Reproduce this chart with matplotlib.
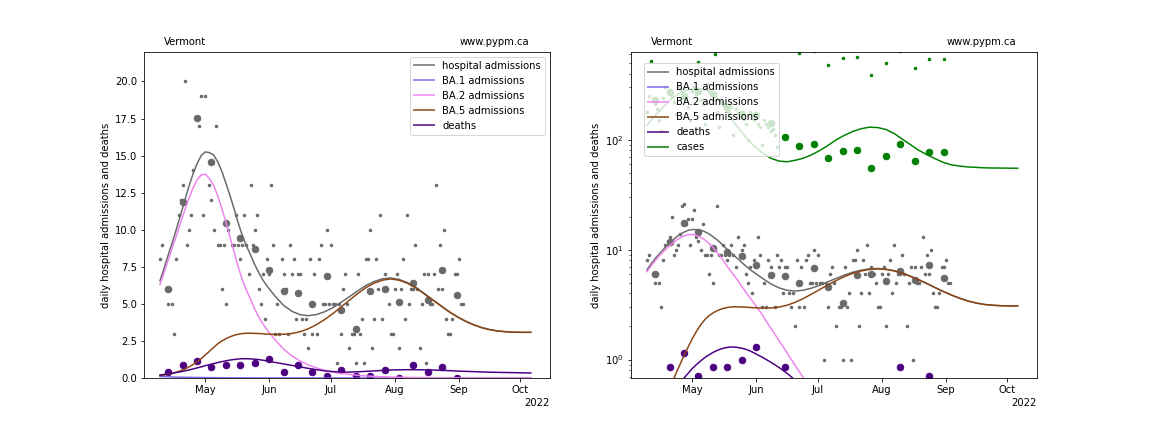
import datetime as dt

import matplotlib
matplotlib.use('Agg')
import matplotlib.pyplot as plt
import matplotlib.dates as mdates
from matplotlib.lines import Line2D

base = dt.datetime(2022, 5, 1)

# daily hospital admissions (day offset from May 1, value)
hosp_days = [-22, -21, -19, -18, -17, -16, -15, -14, -13, -12, -11, -10, -9, -8, -7, -6, -5, -4, -3, -2, -1,
             0, 1, 2, 3, 4, 5, 6, 7, 8, 9, 10, 11, 12, 13,
             14, 15, 16, 17, 18, 19, 20, 21, 22, 23, 24, 25, 26, 27,
             28, 29, 30, 31, 32, 33, 34, 35, 36, 37, 38, 39, 40, 41,
             42, 43, 44, 45, 46, 47, 48, 49, 50, 51, 52, 53, 54, 55,
             56, 57, 58, 59, 60, 61, 62, 63, 64, 65, 66, 67, 68, 69,
             70, 71, 72, 73, 74, 75, 76, 77, 78, 79, 80, 81, 82, 83,
             84, 85, 86, 87, 88, 89, 90, 91, 92, 93, 94, 95, 96, 97,
             98, 99, 100, 101, 102, 103, 104, 105, 106, 107, 108, 109, 110, 111,
             112, 113, 114, 115, 116, 117, 118, 119, 120, 121, 122, 123, 124, 125]
hosp_daily = [8, 9, 6, 5, 6, 5, 3, 8, 11, 12, 13, 20, 9, 10, 11, 14, 25, 26, 17, 19, 11,
              19, 23, 13, 12, 10, 17, 9, 9, 6, 9, 5, 10, 25, 9,
              9, 11, 9, 8, 9, 11, 9, 7, 13, 9, 10, 11, 6, 5,
              7, 4, 8, 7, 13, 9, 3, 5, 3, 8, 7, 6, 3, 9,
              7, 8, 4, 7, 7, 4, 3, 4, 2, 8, 3, 7, 3, 8,
              9, 5, 5, 10, 5, 9, 5, 5, 1, 5, 3, 6, 7, 5,
              2, 3, 3, 1, 7, 3, 4, 1, 8, 8, 10, 2, 4, 8,
              6, 11, 4, 7, 6, 5, 3, 3, 6, 7, 2, 6, 8, 4,
              11, 5, 6, 6, 9, 6, 2, 5, 7, 1, 7, 5, 5, 7,
              13, 6, 9, 6, 10, 4, 3, 3, 4, 7, 7, 8, 5, 5]

# weekly averages
week_days = [-18, -11, -4, 3, 10, 17, 24, 31, 38, 45, 52, 59, 66, 73, 80, 87, 94, 101, 108, 115, 122]
hosp_weekly = [6.0, 11.86, 17.57, 14.57, 10.43, 9.43, 8.71, 7.29, 5.86, 5.71, 5.0,
               6.86, 4.57, 3.29, 5.86, 6.0, 5.14, 6.43, 5.29, 7.29, 5.57]
death_weekly = [0.43, 0.86, 1.14, 0.71, 0.86, 0.86, 1.0, 1.29, 0.43, 0.86, 0.43,
                0.14, 0.57, 0.14, 0.14, 0.57, 0.0, 0.86, 0.43, 0.71, 0.0]
case_weekly = [231, 270, 250, 276, 260, 200, 170, 168, 143, 106, 88,
               91, 68.5, 79.4, 81, 55.6, 71.6, 91, 64.4, 77.6, 77.6]

# reported cases (daily early on, weekly totals later)
case_days = list(range(-22, 42)) + [45, 52, 59, 66, 73, 80, 87, 94, 101, 108, 115, 122]
case_reported = [180, 250, 522, 230, 210, 190, 150, 120, 240, 300, 280, 260, 250, 220, 170, 310,
                 290, 270, 240, 230, 200, 150, 280, 300, 260, 508, 230, 210, 140, 320, 280, 260,
                 230, 605, 180, 130, 220, 210, 200, 190, 180, 200, 110, 190, 175, 160, 170, 155,
                 140, 100, 180, 170, 150, 160, 140, 130, 90, 150, 140, 130, 120, 125, 110, 85,
                 742, 616, 637, 480, 556, 567, 389, 501, 637, 451, 543, 543]

# model curves
model_days = list(range(-22, 30, 2)) + list(range(30, 159, 4))
hosp_model = [6.55, 7.4, 8.3, 9.15, 10.05, 11.0, 11.95, 12.9, 13.75, 14.45, 15.0, 15.25, 15.2,
              15.05, 14.6, 13.95, 13.15, 12.3, 11.4, 10.45, 9.6, 8.9, 8.3, 7.65, 7.1, 6.6,
              6.2, 5.5, 4.9, 4.5, 4.27, 4.2, 4.28, 4.47, 4.75, 5.11, 5.49, 5.88, 6.24, 6.51, 6.69,
              6.75, 6.65, 6.44, 6.13, 5.73, 5.32, 4.92, 4.51, 4.16, 3.86, 3.61, 3.41, 3.27, 3.17,
              3.12, 3.09, 3.08, 3.08]
ba1_model = [0.1, 0.09, 0.08, 0.07, 0.06, 0.055, 0.05, 0.045, 0.04, 0.035, 0.03, 0.028, 0.025,
             0.022, 0.02, 0.017, 0.015, 0.013, 0.012, 0.011, 0.01, 0.009, 0.008, 0.007, 0.006, 0.005,
             0.004, 0.003, 0.003, 0.002, 0.002, 0.002, 0.001, 0.001, 0.001, 0.001, 0.001, 0.001, 0.001,
             0.001, 0.001, 0.001, 0.001, 0.001, 0.001, 0.001, 0.001, 0.001, 0.001, 0.001, 0.001, 0.001,
             0.001, 0.001, 0.001, 0.001, 0.001, 0.001, 0.001]
ba2_model = [6.3, 7.1, 7.95, 8.8, 9.6, 10.45, 11.3, 12.1, 12.8, 13.35, 13.7, 13.75, 13.45,
             13.0, 12.3, 11.45, 10.5, 9.5, 8.5, 7.5, 6.6, 5.9, 5.3, 4.65, 4.1, 3.65,
             3.25, 2.55, 1.95, 1.5, 1.15, 0.88, 0.68, 0.52, 0.4, 0.31, 0.24, 0.18, 0.14, 0.11,
             0.085, 0.065, 0.05, 0.04, 0.03, 0.025, 0.02, 0.016, 0.013, 0.01, 0.008, 0.006, 0.005,
             0.004, 0.003, 0.003, 0.002, 0.002, 0.002]
ba5_model = [0.16, 0.2, 0.25, 0.32, 0.4, 0.49, 0.6, 0.74, 0.9, 1.09, 1.3, 1.55, 1.8,
             2.06, 2.3, 2.5, 2.65, 2.78, 2.88, 2.95, 3.0, 3.02, 3.02, 3.01, 3.0, 2.98,
             2.96, 2.94, 2.95, 3.0, 3.12, 3.32, 3.6, 3.95, 4.35, 4.8, 5.25, 5.7, 6.1, 6.4, 6.6,
             6.68, 6.6, 6.4, 6.1, 5.7, 5.3, 4.9, 4.5, 4.15, 3.85, 3.6, 3.4, 3.26, 3.17,
             3.12, 3.09, 3.08, 3.08]
death_model = [0.2, 0.24, 0.28, 0.32, 0.37, 0.42, 0.48, 0.54, 0.61, 0.68, 0.75, 0.83, 0.9,
               0.97, 1.04, 1.1, 1.16, 1.21, 1.25, 1.28, 1.3, 1.3, 1.29, 1.27, 1.24, 1.2,
               1.15, 1.05, 0.95, 0.85, 0.75, 0.65, 0.56, 0.48, 0.43, 0.4, 0.4, 0.42, 0.45, 0.48, 0.51,
               0.54, 0.55, 0.56, 0.56, 0.55, 0.54, 0.52, 0.5, 0.47, 0.45, 0.43, 0.41, 0.39, 0.38,
               0.37, 0.36, 0.35, 0.34]
case_model = [135, 150, 165, 182, 200, 218, 235, 251, 265, 277, 285, 290, 292,
              290, 285, 275, 262, 240, 215, 190, 165, 146, 130, 117, 105, 96,
              88, 76, 68, 64, 63, 65, 68, 73, 80, 89, 100, 110, 119, 126, 130,
              129, 124, 114, 101, 90, 80, 73, 67, 62, 59, 57.5, 56.5, 56, 55.5,
              55.3, 55.2, 55.1, 55]


def to_dates(days):
    return [base + dt.timedelta(days=d) for d in days]


def draw(ax, log):
    ax.plot(to_dates(hosp_days), hosp_daily, 'o', color='dimgrey', ms=2.5)
    ax.plot(to_dates(week_days), hosp_weekly, 'o', color='dimgrey', ms=6.5)
    ax.plot(to_dates(week_days), death_weekly, 'o', color='indigo', ms=6.5)
    md = to_dates(model_days)
    ax.plot(md, hosp_model, color='dimgrey', lw=1.5)
    ax.plot(md, ba1_model, color='mediumslateblue', lw=1.5)
    ax.plot(md, ba2_model, color='violet', lw=1.5)
    ax.plot(md, ba5_model, color='saddlebrown', lw=1.5)
    ax.plot(md, death_model, color='indigo', lw=1.5)
    handles = [Line2D([], [], color='dimgrey', lw=2, alpha=0.75, label='hospital admissions'),
               Line2D([], [], color='mediumslateblue', lw=2, alpha=0.75, label='BA.1 admissions'),
               Line2D([], [], color='violet', lw=2, alpha=0.75, label='BA.2 admissions'),
               Line2D([], [], color='saddlebrown', lw=2, alpha=0.75, label='BA.5 admissions'),
               Line2D([], [], color='indigo', lw=2, alpha=0.75, label='deaths')]
    if log:
        ax.plot(to_dates(case_days), case_reported, 'o', color='green', ms=2.5)
        ax.plot(to_dates(week_days), case_weekly, 'o', color='green', ms=6.5)
        ax.plot(md, case_model, color='green', lw=1.5)
        handles.append(Line2D([], [], color='green', lw=2, alpha=0.75, label='cases'))
        ax.set_yscale('log')
        ax.set_ylim(0.68, 630)
        ax.legend(handles=handles, loc='upper left', bbox_to_anchor=(0.02, 0.98))
    else:
        ax.set_ylim(0, 22)
        ax.legend(handles=handles, loc='upper right')
    ax.set_xlim(dt.datetime(2022, 4, 1, 6), dt.datetime(2022, 10, 15, 6))
    locator = mdates.AutoDateLocator()
    ax.xaxis.set_major_locator(locator)
    ax.xaxis.set_major_formatter(mdates.ConciseDateFormatter(locator))
    ax.set_ylabel('daily hospital admissions and deaths')
    ax.text(0.05, 1.015, 'Vermont', transform=ax.transAxes, ha='left', va='bottom')
    ax.text(0.95, 1.015, 'www.pypm.ca', transform=ax.transAxes, ha='right', va='bottom')


fig, axes = plt.subplots(1, 2, figsize=(16, 6), dpi=72)
fig.subplots_adjust(bottom=0.125)
draw(axes[0], False)
draw(axes[1], True)
fig.savefig('out.png', dpi=72)
